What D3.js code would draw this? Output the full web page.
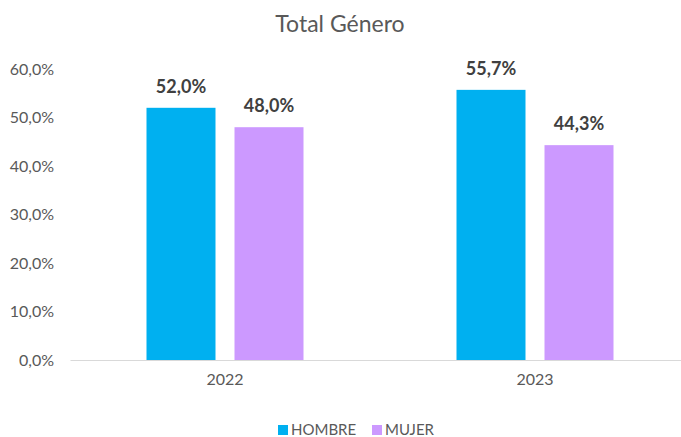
<!DOCTYPE html>
<html>
<head>
<meta charset="utf-8">
<script src="https://cdn.jsdelivr.net/npm/d3@7"></script>
<style>
  body { margin: 0; background: #fff; }
  svg { font-family: Lato, "Open Sans", sans-serif; }
</style>
</head>
<body>
<svg id="chart" width="681" height="437"></svg>
<script>
// data
var years = ["2022", "2023"];
var series = ["HOMBRE", "MUJER"];
var hombre = [0.520, 0.557];
var mujer = [0.480, 0.443];
var yTicks = [0, 0.1, 0.2, 0.3, 0.4, 0.5, 0.6];

var colors = {HOMBRE: "#00b0f0", MUJER: "#cc99ff"};

var svg = d3.select("#chart");
var margin = {top: 69, left: 70, bottom: 77, right: -9};
var width = 681 - margin.left - margin.right,
    height = 437 - margin.top - margin.bottom;

var fmt = function(v){ return (v * 100).toFixed(1).replace(".", ",") + "%"; };

var x = d3.scaleBand().domain(years).range([0, width]);
var x1 = d3.scaleBand().domain(series).range([0, 157]).paddingInner(0.216);
var y = d3.scaleLinear().domain([0, 0.6]).range([height, 0]);

var g = svg.append("g")
    .attr("transform", "translate(" + margin.left + "," + margin.top + ")");

// title
svg.append("text")
    .attr("x", 340).attr("y", 32)
    .attr("text-anchor", "middle")
    .attr("font-size", 23)
    .attr("fill", "#595959")
    .text("Total Género");

// y axis labels
var yAxis = g.append("g")
    .call(d3.axisLeft(y).tickValues(yTicks).tickFormat(fmt).tickSize(0).tickPadding(16))
    .attr("font-family", null);
yAxis.select(".domain").remove();
yAxis.selectAll("text").attr("font-size", 16).attr("fill", "#595959");

// x axis
var xAxis = g.append("g")
    .attr("transform", "translate(0," + height + ")")
    .call(d3.axisBottom(x).tickSize(0).tickPadding(14))
    .attr("font-family", null);
xAxis.select(".domain").attr("stroke", "#d9d9d9").attr("stroke-width", 1.2);
xAxis.selectAll("text").attr("font-size", 16).attr("fill", "#595959");

var rows = years.map(function(yr, i){
    return [{year: yr, key: "HOMBRE", value: hombre[i]}, {year: yr, key: "MUJER", value: mujer[i]}];
});

var groups = g.selectAll(".grp").data(rows).enter().append("g")
    .attr("class", "grp")
    .attr("transform", function(d){ return "translate(" + (x(d[0].year) + x.bandwidth() / 2 - 78.5) + ",0)"; });

groups.selectAll("rect").data(function(d){ return d; }).enter().append("rect")
    .attr("x", function(d){ return x1(d.key); })
    .attr("width", x1.bandwidth())
    .attr("y", function(d){ return y(d.value); })
    .attr("height", function(d){ return height - y(d.value); })
    .attr("fill", function(d){ return colors[d.key]; });

groups.selectAll(".lbl").data(function(d){ return d; }).enter().append("text")
    .attr("class", "lbl")
    .attr("x", function(d){ return x1(d.key) + x1.bandwidth() / 2; })
    .attr("y", function(d){ return y(d.value) - 15; })
    .attr("text-anchor", "middle")
    .attr("font-size", 18)
    .attr("font-weight", "bold")
    .attr("fill", "#404040")
    .text(function(d){ return fmt(d.value); });

// legend
var legend = svg.append("g").attr("transform", "translate(278,425)");
var lx = [0, 94];
series.forEach(function(s, i){
    var lg = legend.append("g").attr("transform", "translate(" + lx[i] + ",0)");
    lg.append("rect").attr("width", 10).attr("height", 10).attr("fill", colors[s]);
    lg.append("text").attr("x", 13).attr("y", 10)
        .attr("font-size", 15).attr("fill", "#595959").text(s);
});
</script>
</body>
</html>
